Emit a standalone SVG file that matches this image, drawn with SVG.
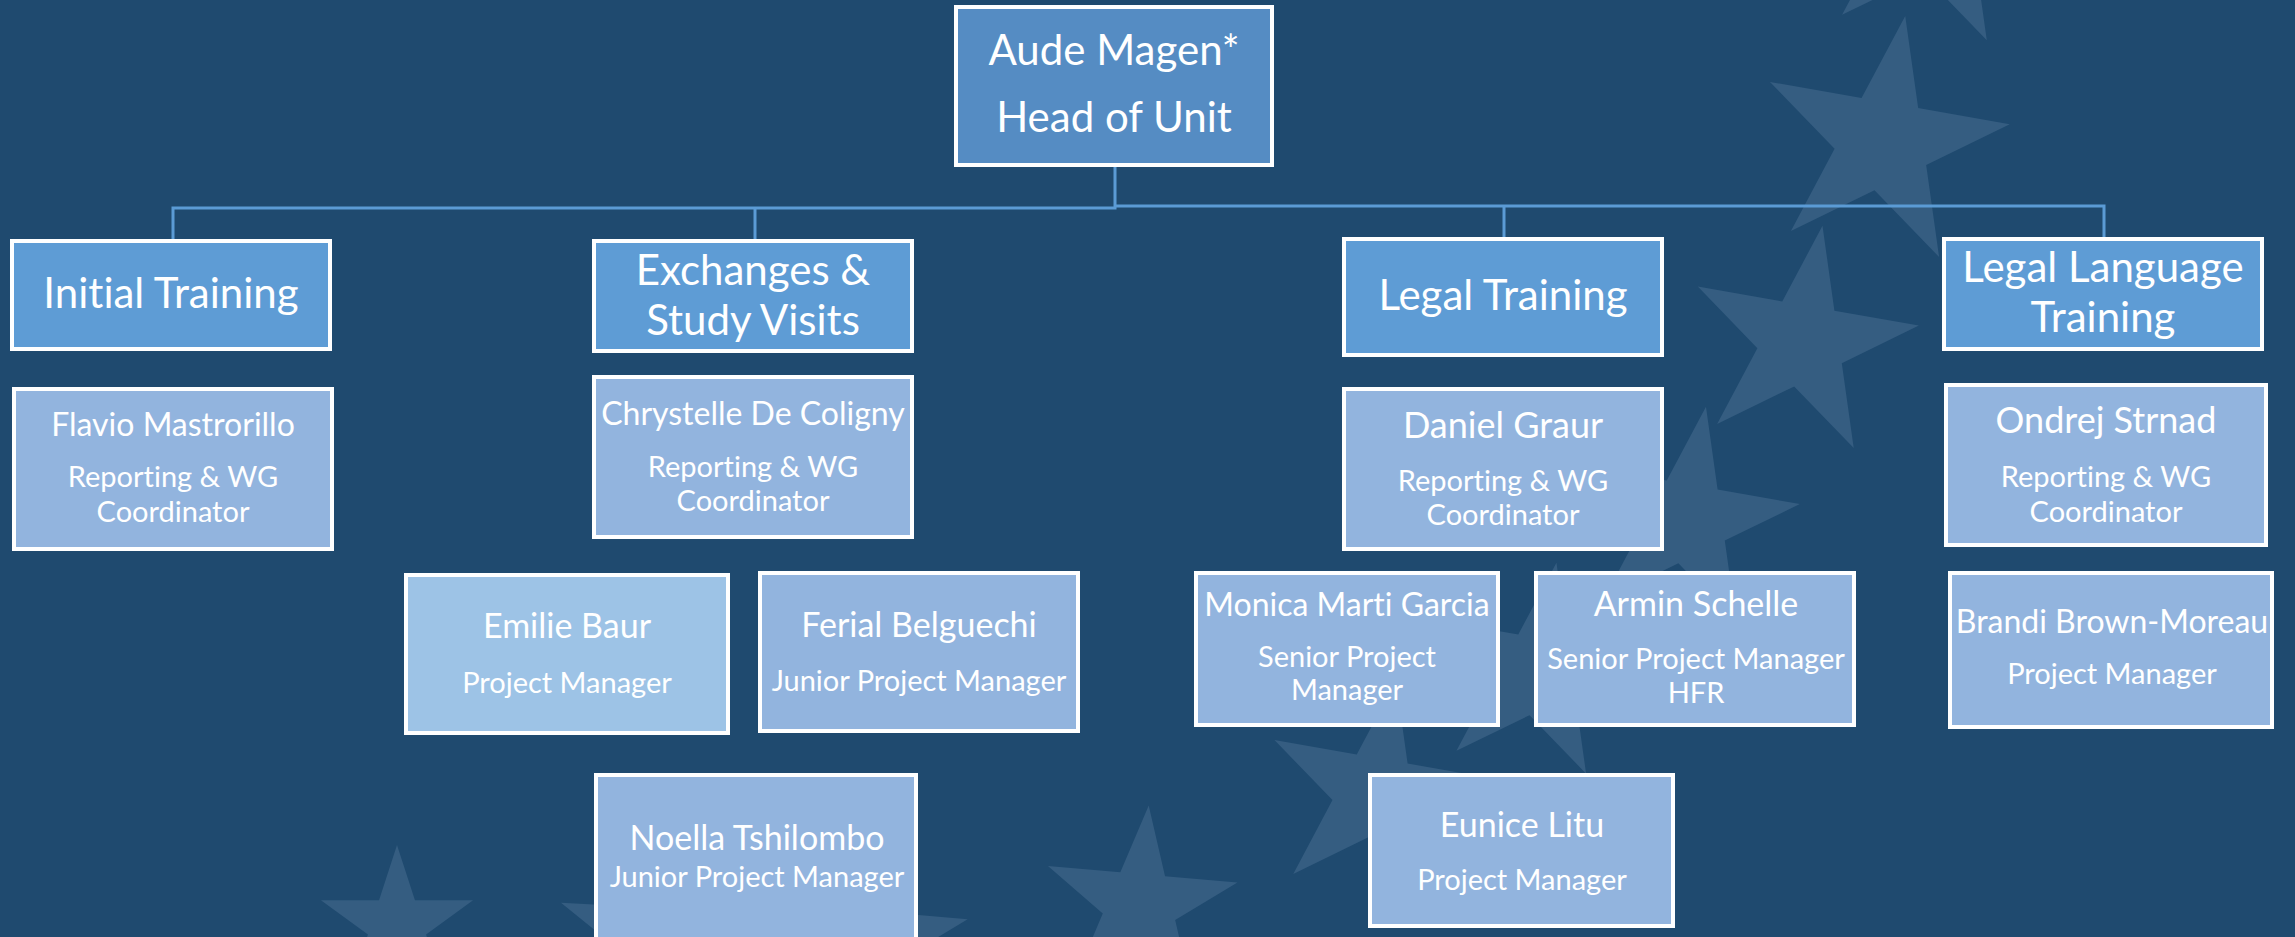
<svg xmlns="http://www.w3.org/2000/svg" xmlns:xlink="http://www.w3.org/1999/xlink" width="2295" height="937" viewBox="0 0 2295 937">
<defs>
<style>
.star{fill:#355D81}
.box{stroke:#FFFFFF;stroke-width:4}
.head{fill:#558CC3}
.cat{fill:#5E9CD5}
.per{fill:#92B4DE}
.per2{fill:#9DC3E6}
.conn{fill:none;stroke:#5B9BD5;stroke-width:3}
text{font-family:Lato,"Open Sans",sans-serif;fill:#FFFFFF;text-anchor:middle;font-variant-ligatures:none;font-feature-settings:"liga" 0}
.t42{font-size:42px}
.n32{font-size:32px}
.n34{font-size:34px}
.n36{font-size:36px}
.r29{font-size:29px}
.r30{font-size:30px}
</style>
<path id="star" d="M0,-100 L22.45,-30.9 L95.1,-30.9 L36.33,11.8 L58.78,80.9 L0,38.2 L-58.78,80.9 L-36.33,11.8 L-95.1,-30.9 L-22.45,-30.9 Z"/>
</defs>
<rect x="0" y="0" width="2295" height="937" fill="#1F4A6F"/>
<g id="stars">
<use xlink:href="#star" class="star" transform="translate(1932,-72) rotate(10) scale(1.25)"/>
<use xlink:href="#star" class="star" transform="translate(1883,142) rotate(10) scale(1.28)"/>
<use xlink:href="#star" class="star" transform="translate(1802,342) rotate(10) scale(1.18)"/>
<use xlink:href="#star" class="star" transform="translate(1686,520) rotate(10) scale(1.15)"/>
<use xlink:href="#star" class="star" transform="translate(1537,673) rotate(10) scale(1.12)"/>
<use xlink:href="#star" class="star" transform="translate(1376,794) rotate(10) scale(1.15)"/>
<use xlink:href="#star" class="star" transform="translate(1140,905) rotate(5) scale(1.0)"/>
<use xlink:href="#star" class="star" transform="translate(878,940) rotate(5) scale(0.92)"/>
<use xlink:href="#star" class="star" transform="translate(645,935) rotate(3) scale(0.9)"/>
<use xlink:href="#star" class="star" transform="translate(397,925) rotate(0) scale(0.8)"/>
</g>
<g id="connectors">
<path class="conn" d="M1115,167 V208 H173 V239"/>
<path class="conn" d="M755,208 V239"/>
<path class="conn" d="M1115,206 H2104 V237"/>
<path class="conn" d="M1504,206 V237"/>
</g>
<g id="head-of-unit">
<rect class="box head" x="956" y="7" width="316" height="158"/>
<text class="t42" x="1114" y="65">Aude Magen*</text>
<text class="t42" x="1114" y="132">Head of Unit</text>
</g>
<g id="initial-training">
<rect class="box cat" x="12" y="241" width="318" height="108"/>
<text class="t42" x="171" y="308">Initial Training</text>
</g>
<g id="exchanges">
<rect class="box cat" x="594" y="241" width="318" height="110"/>
<text class="t42" x="753" y="285">Exchanges &amp;</text>
<text class="t42" x="753" y="335">Study Visits</text>
</g>
<g id="legal-training">
<rect class="box cat" x="1344" y="239" width="318" height="116"/>
<text class="t42" x="1503" y="310">Legal Training</text>
</g>
<g id="legal-language-training">
<rect class="box cat" x="1944" y="239" width="318" height="110"/>
<text class="t42" x="2103" y="282">Legal Language</text>
<text class="t42" x="2103" y="332">Training</text>
</g>
<g id="flavio">
<rect class="box per" x="14" y="389" width="318" height="160"/>
<text class="n32" x="173" y="436">Flavio Mastrorillo</text>
<text class="r29" x="173" y="487">Reporting &amp; WG</text>
<text class="r29" x="173" y="522">Coordinator</text>
</g>
<g id="chrystelle">
<rect class="box per" x="594" y="377" width="318" height="160"/>
<text class="n32" x="753" y="425">Chrystelle De Coligny</text>
<text class="r29" x="753" y="477">Reporting &amp; WG</text>
<text class="r29" x="753" y="511">Coordinator</text>
</g>
<g id="daniel">
<rect class="box per" x="1344" y="389" width="318" height="160"/>
<text class="n36" x="1503" y="438">Daniel Graur</text>
<text class="r29" x="1503" y="491">Reporting &amp; WG</text>
<text class="r29" x="1503" y="525">Coordinator</text>
</g>
<g id="ondrej">
<rect class="box per" x="1946" y="385" width="320" height="160"/>
<text class="n36" x="2106" y="433">Ondrej Strnad</text>
<text class="r29" x="2106" y="487">Reporting &amp; WG</text>
<text class="r29" x="2106" y="522">Coordinator</text>
</g>
<g id="emilie">
<rect class="box per2" x="406" y="575" width="322" height="158"/>
<text class="n34" x="567" y="638">Emilie Baur</text>
<text class="r29" x="567" y="693">Project Manager</text>
</g>
<g id="ferial">
<rect class="box per" x="760" y="573" width="318" height="158"/>
<text class="n34" x="919" y="637">Ferial Belguechi</text>
<text class="r29" x="919" y="691">Junior Project Manager</text>
</g>
<g id="noella">
<rect class="box per" x="596" y="775" width="320" height="175"/>
<text class="n34" x="757" y="850">Noella Tshilombo</text>
<text class="r29" x="757" y="887">Junior Project Manager</text>
</g>
<g id="monica">
<rect class="box per" x="1196" y="573" width="302" height="152"/>
<text class="n32" x="1347" y="616">Monica Marti Garcia</text>
<text class="r29" x="1347" y="667">Senior Project</text>
<text class="r29" x="1347" y="700">Manager</text>
</g>
<g id="armin">
<rect class="box per" x="1536" y="573" width="318" height="152"/>
<text class="n34" x="1696" y="616">Armin Schelle</text>
<text class="r29" x="1696" y="669">Senior Project Manager</text>
<text class="r29" x="1696" y="703">HFR</text>
</g>
<g id="brandi">
<rect class="box per" x="1950" y="573" width="322" height="154"/>
<text class="n32" x="2112" y="633">Brandi Brown-Moreau</text>
<text class="r29" x="2112" y="684">Project Manager</text>
</g>
<g id="eunice">
<rect class="box per" x="1370" y="775" width="303" height="151"/>
<text class="n34" x="1522" y="837">Eunice Litu</text>
<text class="r29" x="1522" y="890">Project Manager</text>
</g>
</svg>
